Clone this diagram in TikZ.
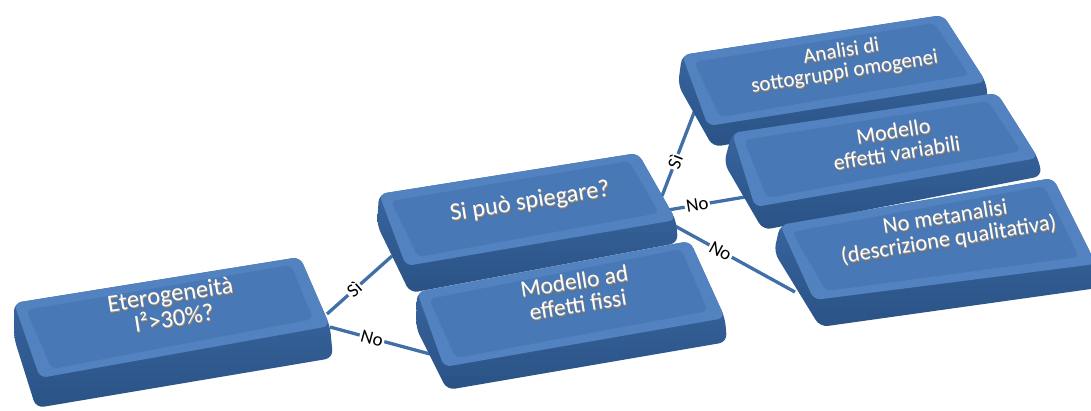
\documentclass[tikz,border=0pt]{standalone}
\usepackage{fontspec}
\setmainfont{Carlito}
\usetikzlibrary{calc}
\definecolor{topc}{HTML}{4878B5}
\definecolor{bevc}{HTML}{5283C0}
\definecolor{fronttop}{HTML}{3D6CA7}
\definecolor{frontbot}{HTML}{2A5285}
\definecolor{linec}{HTML}{4170A8}
\definecolor{shadc}{HTML}{6E6E6E}
\definecolor{shadd}{HTML}{9A9A9A}
\tikzset{
  boxtxt/.style={text=white, font=\fontsize{#1}{#1}\selectfont, align=center, rotate=9, inner sep=0pt},
  boxshd/.style={boxtxt=#1, text=shadc},
  boxshl/.style={boxtxt=#1, text=shadd},
  conn/.style={draw=linec, line width=3.3pt},
  lab/.style={fill=white, text=black, font=\fontsize{19}{19}\selectfont, inner sep=1.5pt},
  frontface/.style={top color=fronttop, bottom color=frontbot, rounded corners=8pt},
  outerface/.style={fill=bevc, rounded corners=7pt},
  innerface/.style={fill=topc, rounded corners=5pt},
}
% #1 name, #2 TL, #3 TR, #4 R, #5 BR, #6 BL, #7 L, #8 TBL
\newcommand{\slab}[8]{%
  \coordinate (#1-tl) at (#2);
  \coordinate (#1-tr) at (#3);
  \coordinate (#1-r) at (#4);
  \coordinate (#1-br) at (#5);
  \coordinate (#1-bl) at (#6);
  \coordinate (#1-l) at (#7);
  \coordinate (#1-tbl) at (#8);
  \shade[frontface] (#1-tl) -- (#1-tr) -- (#1-r) -- (#1-br) -- (#1-bl) -- (#1-l) -- cycle;
  \fill[outerface] (#1-tl) -- (#1-tr) -- (#1-r) -- (#1-tbl) -- cycle;
  \fill[innerface] ($(#1-tl)+(12,7)$) -- ($(#1-tr)+(-9,8)$) -- ($(#1-r)+(-17,-7)$) -- ($(#1-tbl)+(12,-9)$) -- cycle;
}
% #1 name, #2 position, #3 text, #4 font size
\newcommand{\btext}[4]{%
  \node[boxshd=#4] at ($(#2)+(1.4,2.0)$) {#3};
  \node[boxshl=#4] at ($(#2)+(0.7,1.0)$) {#3};
  \node[boxtxt=#4] (#1) at (#2) {#3};
}
\begin{document}
\begin{tikzpicture}[x=1pt,y=-1pt]
\useasboundingbox (0,0) rectangle (1091,410);
\clip (0,0) rectangle (1091,410);

% connector ports
\coordinate (p1s) at (327,314);
\coordinate (p2in) at (392,256);
\coordinate (p1n) at (330,327);
\coordinate (p3in) at (430,354);
\coordinate (p2s) at (662,196);
\coordinate (p4in) at (695,110);
\coordinate (p2n) at (668,210);
\coordinate (p5in) at (745,197);
\coordinate (p2m) at (675,226);
\coordinate (p6in) at (795,292);

% connectors
\draw[conn] (p1s) -- node[lab, pos=0.42, sloped] (l1) {Sì} (p2in);
\draw[conn] (p1n) -- node[lab, pos=0.42, sloped] (l2) {No} (p3in);
\draw[conn] (p2s) -- node[lab, pos=0.4, sloped] (l3) {Sì} (p4in);
\draw[conn] (p2n) -- node[lab, pos=0.38, sloped] (l4) {No} (p5in);
\draw[conn] (p2m) -- node[lab, pos=0.38, sloped] (l5) {No} (p6in);

% boxes
\slab{b1}{14,303}{300,257}{330,326}{333,358}{36,408}{14,338}{40,378}
\btext{t1}{172,306}{Eterogeneità\\I²>30\%?}{24.5}

\slab{b2}{379,194}{638,153}{676,220}{678,243}{410,293}{377,225}{406,266}
\btext{t2}{530,202}{Si può spiegare?}{24.5}

\slab{b3}{417,292}{690,241}{725,318}{727,342}{447,390}{416,328}{444,367}
\btext{t3}{576,293}{Modello ad\\effetti fissi}{23.5}

\slab{b4}{682,55}{943,15}{986,82}{988,100}{713,147}{678,85}{708,126}
\btext{t4}{843,62}{Analisi di\\sottogruppi omogenei}{21}

\slab{b5}{732,133}{997,93}{1038,158}{1042,176}{763,230}{724,163}{755,207}
\btext{t5}{895,142}{Modello\\effetti variabili}{22}

\slab{b6}{780,225}{1053,178}{1096,264}{1098,288}{820,327}{774,252}{814,300}
\btext{t6}{947,229}{No metanalisi\\(descrizione qualitativa)}{22.5}
\end{tikzpicture}
\end{document}
